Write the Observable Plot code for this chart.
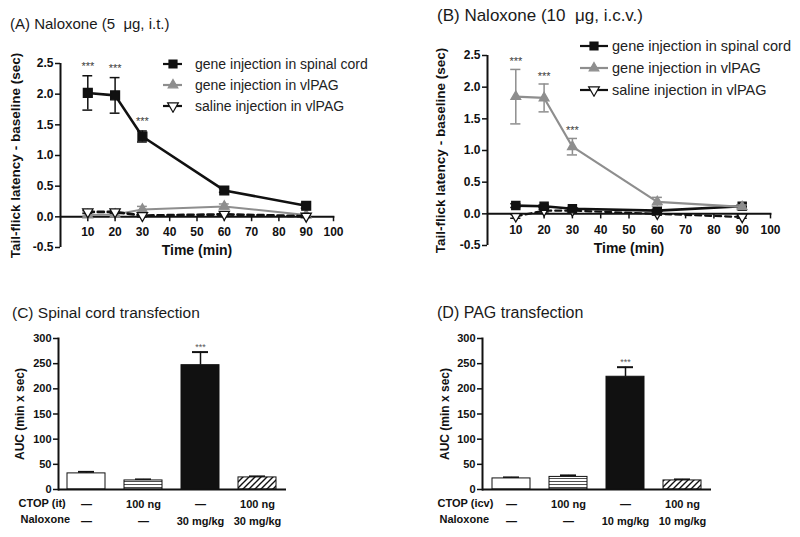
<!DOCTYPE html>
<html>
<head>
<meta charset="utf-8">
<script src="https://cdn.jsdelivr.net/npm/d3@7"></script>
<script src="https://cdn.jsdelivr.net/npm/@observablehq/plot@0.6"></script>
<style>
  body { margin: 0; background: #fff; }
  #root { position: relative; width: 800px; height: 537px; overflow: hidden; background: #fff;
          font-family: "Liberation Sans", Arial, sans-serif; color: #111; }
  .title { position: absolute; line-height: 18px; white-space: pre; color: #1a1a1a; }
  .lg-row { position: absolute; display: flex; align-items: center; white-space: nowrap; color: #222; }
  .lg-row svg { display: block; }
</style>
</head>
<body>
<div id="root">
  <svg width="0" height="0" style="position:absolute">
    <defs>
      <pattern id="hstripe" patternUnits="userSpaceOnUse" width="8" height="3">
        <rect width="8" height="3" fill="white"/>
        <line x1="0" y1="1.5" x2="8" y2="1.5" stroke="#222" stroke-width="0.8"/>
      </pattern>
      <pattern id="diag" patternUnits="userSpaceOnUse" width="6" height="6">
        <rect width="6" height="6" fill="white"/>
        <path d="M0,6 L6,0 M-1.5,1.5 L1.5,-1.5 M4.5,7.5 L7.5,4.5" stroke="#111" stroke-width="1.4"/>
      </pattern>
    </defs>
  </svg>
</div>
<script>
// ---------------- data ----------------
const timePoints = [10, 20, 30, 60, 90];
const xTickValues = [10, 20, 30, 40, 50, 60, 70, 80, 90, 100];
const yTickValuesLine = [-0.5, 0, 0.5, 1, 1.5, 2, 2.5];
const seriesLabels = ["gene injection in spinal cord", "gene injection in vlPAG", "saline injection in vlPAG"];

// Panel A: Naloxone (5 µg, i.t.)
const aSpinalMean = [2.02, 1.98, 1.31, 0.43, 0.18];
const aSpinalSem  = [0.28, 0.29, 0.09, 0.03, 0.04];
const aVlpagMean  = [0.03, 0.04, 0.12, 0.17, 0.03];
const aVlpagSem   = [0.02, 0.02, 0.05, 0.04, 0.02];
const aSalineMean = [0.08, 0.08, 0.02, 0.04, 0.01];
const aSalineSem  = [0.02, 0.02, 0.02, 0.02, 0.02];
const aStars      = ["***", "***", "***", "", ""];

// Panel B: Naloxone (10 µg, i.c.v.)
const bSpinalMean = [0.13, 0.12, 0.08, 0.05, 0.12];
const bSpinalSem  = [0.03, 0.02, 0.02, 0.02, 0.02];
const bVlpagMean  = [1.85, 1.83, 1.06, 0.19, 0.11];
const bVlpagSem   = [0.43, 0.22, 0.13, 0.07, 0.03];
const bSalineMean = [-0.04, 0.05, 0.05, 0.0, -0.05];
const bSalineSem  = [0.03, 0.02, 0.02, 0.02, 0.02];
const bStars      = ["***", "***", "***", "", ""];

// Panels C and D: AUC
const barGroups = ["control", "CTOP", "naloxone", "CTOP + naloxone"];
const yTickValuesBar = [0, 50, 100, 150, 200, 250, 300];
const cAUC  = [32, 18, 247, 24];
const cSem  = [3, 2, 26, 2];
const cCtopRow  = ["—", "100 ng", "—", "100 ng"];
const cNaloxRow = ["—", "—", "30 mg/kg", "30 mg/kg"];
const dAUC  = [22, 25, 224, 18];
const dSem  = [2, 3, 19, 2];
const dCtopRow  = ["—", "100 ng", "—", "100 ng"];
const dNaloxRow = ["—", "—", "10 mg/kg", "10 mg/kg"];
const barStars = ["", "", "***", ""];

// ---------------- styles ----------------
const BLACK = "#111";
const GRAY = "#8e8e8e";
const barFills = ["white", "url(#hstripe)", "#111", "url(#diag)"];
const FONT = "Liberation Sans, Arial, sans-serif";

const triangleDown = {
  draw(context, size) {
    const a = Math.sqrt(size * 4 / Math.sqrt(3));
    const h = a * Math.sqrt(3) / 2;
    context.moveTo(0, 2 * h / 3);
    context.lineTo(a / 2, -h / 3);
    context.lineTo(-a / 2, -h / 3);
    context.closePath();
  }
};

const root = document.getElementById("root");
function place(node, left, top) {
  node.style.position = "absolute";
  node.style.left = left + "px";
  node.style.top = top + "px";
  root.appendChild(node);
}
function addTitle(text, left, top, size) {
  const d = document.createElement("div");
  d.className = "title";
  d.textContent = text;
  d.style.left = left + "px";
  d.style.top = top + "px";
  d.style.fontSize = size + "px";
  root.appendChild(d);
}

function rows(mean, sem, stars) {
  return timePoints.map((t, i) => ({t, v: mean[i], lo: mean[i] - sem[i], hi: mean[i] + sem[i], star: stars ? stars[i] : ""}));
}

function seriesMarks(data, o) {
  const marks = [];
  marks.push(Plot.line(data, {x: "t", y: "v", stroke: o.color, strokeWidth: o.lw, strokeDasharray: o.dash}));
  marks.push(Plot.ruleX(data, {x: "t", y1: "lo", y2: "hi", stroke: o.color, strokeWidth: 1.5}));
  marks.push(Plot.ruleY(data, {y: "hi", x1: d => d.t - 1.8, x2: d => d.t + 1.8, stroke: o.color, strokeWidth: 1.5}));
  marks.push(Plot.ruleY(data, {y: "lo", x1: d => d.t - 1.8, x2: d => d.t + 1.8, stroke: o.color, strokeWidth: 1.5}));
  marks.push(Plot.dot(data, {x: "t", y: "v", symbol: o.symbol, r: o.r, fill: o.fill, stroke: o.stroke, strokeWidth: 1.3}));
  return marks;
}

function linePanel(cfg) {
  return Plot.plot({
    width: 400, height: 270,
    marginLeft: cfg.ml, marginRight: cfg.mr, marginTop: cfg.mt, marginBottom: cfg.mb,
    x: {domain: [0, 100], axis: null},
    y: {domain: [-0.5, 2.5]},
    style: {fontFamily: FONT, fontSize: "12px", fontWeight: "bold", color: BLACK, background: "transparent", overflow: "visible"},
    marks: [
      Plot.axisY({ticks: yTickValuesLine, tickFormat: d => d.toFixed(1), tickSize: 5, tickPadding: 2, strokeWidth: 1.5, label: null, fontSize: 12}),
      Plot.ruleX([0], {stroke: BLACK, strokeWidth: 2}),
      Plot.ruleY([0], {x1: 0, x2: 100.5, stroke: BLACK, strokeWidth: 2}),
      Plot.ruleX(xTickValues, {x: d => d, y1: 0, y2: -0.08, stroke: BLACK, strokeWidth: 1.5}),
      Plot.text(xTickValues, {x: d => d, y: 0, dy: cfg.tickDy, text: d => String(d), fontSize: 12}),
      Plot.text(["Tail-flick latency - baseline (sec)"], {frameAnchor: "left", textAnchor: "middle", dx: cfg.ylabDx, rotate: -90, fontSize: 13.5}),
      Plot.text(["Time (min)"], {frameAnchor: "bottom", dy: 7, fontSize: 14}),
      ...cfg.series.flatMap(s => seriesMarks(s.data, s)),
      Plot.text(cfg.starData.filter(d => d.star), {x: "t", y: "hi", dy: cfg.starDy, text: "star", fill: "#3a3a3a", fontWeight: "normal", fontSize: 11})
    ]
  });
}

function addLegend(left, top, gap, glyphW, markerX, textGap, fontSize, styles) {
  seriesLabels.forEach((label, i) => {
    const s = styles[i];
    const row = document.createElement("div");
    row.className = "lg-row";
    row.style.left = left + "px";
    row.style.top = (top + i * gap - 9) + "px";
    row.style.height = "18px";
    row.style.fontSize = fontSize + "px";
    const svg = d3.create("svg").attr("width", glyphW).attr("height", 14);
    svg.append("line").attr("x1", 0).attr("x2", glyphW).attr("y1", 7).attr("y2", 7)
      .attr("stroke", s.color).attr("stroke-width", 2.2);
    svg.append("path").attr("transform", `translate(${markerX},7)`)
      .attr("d", d3.symbol().type(s.sym).size(s.size)())
      .attr("fill", s.fill).attr("stroke", s.stroke).attr("stroke-width", 1.2);
    row.appendChild(svg.node());
    const span = document.createElement("span");
    span.style.marginLeft = textGap + "px";
    span.textContent = label;
    row.appendChild(span);
    root.appendChild(row);
  });
}

const legendStyles = [
  {color: BLACK, sym: d3.symbolSquare, size: 64, fill: BLACK, stroke: BLACK},
  {color: GRAY, sym: d3.symbolTriangle, size: 40, fill: GRAY, stroke: GRAY},
  {color: BLACK, sym: triangleDown, size: 50, fill: "white", stroke: BLACK}
];

// ---------------- Panel A ----------------
const aSpinal = rows(aSpinalMean, aSpinalSem, aStars);
const aVlpag = rows(aVlpagMean, aVlpagSem);
const aSaline = rows(aSalineMean, aSalineSem);
const plotA = linePanel({
  ml: 60, mr: 67, mt: 63, mb: 23, tickDy: 15, ylabDx: -45, starDy: -9,
  starData: aSpinal,
  series: [
    {data: aVlpag, color: GRAY, lw: 2, symbol: "triangle", r: 3.6, fill: GRAY, stroke: GRAY},
    {data: aSaline, color: BLACK, lw: 2.8, dash: "6,4", symbol: triangleDown, r: 3.8, fill: "white", stroke: BLACK},
    {data: aSpinal, color: BLACK, lw: 2.6, symbol: "square", r: 5, fill: BLACK, stroke: BLACK}
  ]
});
place(plotA, 0, 0);
addTitle("(A) Naloxone (5  μg, i.t.)", 10, 15, 15);
addLegend(163, 63.5, 21, 19, 10, 13, 14, legendStyles);

// ---------------- Panel B ----------------
const bSpinal = rows(bSpinalMean, bSpinalSem);
const bVlpag = rows(bVlpagMean, bVlpagSem, bStars);
const bSaline = rows(bSalineMean, bSalineSem);
const plotB = linePanel({
  ml: 87, mr: 30, mt: 55, mb: 25, tickDy: 16, ylabDx: -47, starDy: -8,
  starData: bVlpag,
  series: [
    {data: bSaline, color: BLACK, lw: 2.2, dash: "6,4", symbol: triangleDown, r: 3.6, fill: "white", stroke: BLACK},
    {data: bSpinal, color: BLACK, lw: 2.6, symbol: "square", r: 4.6, fill: BLACK, stroke: BLACK},
    {data: bVlpag, color: GRAY, lw: 2.2, symbol: "triangle", r: 3.6, fill: GRAY, stroke: GRAY}
  ]
});
place(plotB, 400, 0);
addTitle("(B) Naloxone (10  μg, i.c.v.)", 437, 7, 17);
addLegend(580, 46, 22, 28, 14, 4, 14.5, legendStyles);

// ---------------- Bar panels ----------------
function barPanel(cfg) {
  const data = barGroups.map((g, i) => ({g, v: cfg.auc[i], hi: cfg.auc[i] + cfg.sem[i], ctop: cfg.ctop[i], nal: cfg.nal[i], star: barStars[i], i}));
  return Plot.plot({
    width: 400, height: 267,
    marginLeft: cfg.ml, marginRight: cfg.mr, marginTop: 68, marginBottom: 48,
    x: {type: "band", domain: barGroups, paddingInner: 0.33, paddingOuter: 0.165, axis: null},
    y: {domain: [0, 300]},
    style: {fontFamily: FONT, fontSize: "11px", fontWeight: "bold", color: BLACK, background: "transparent", overflow: "visible"},
    marks: [
      Plot.ruleX(data, {x: "g", y1: "v", y2: "hi", stroke: BLACK, strokeWidth: 1.5}),
      Plot.tickY(data, {x: "g", y: "hi", insetLeft: 11, insetRight: 11, stroke: BLACK, strokeWidth: 2}),
      ...data.map(d => Plot.barY([d], {x: "g", y: "v", fill: barFills[d.i], stroke: BLACK, strokeWidth: 1})),
      Plot.ruleY([0], {stroke: BLACK, strokeWidth: 2}),
      Plot.frame({anchor: "left", stroke: BLACK, strokeWidth: 2}),
      Plot.axisY({ticks: yTickValuesBar, tickSize: 5, tickPadding: 2, strokeWidth: 1.5, label: null, fontSize: 11}),
      Plot.text(data, {x: "g", text: "ctop", frameAnchor: "bottom", dy: 18, fontSize: 11}),
      Plot.text(data, {x: "g", text: "nal", frameAnchor: "bottom", dy: 35, fontSize: 11}),
      Plot.text([cfg.rowLabel], {frameAnchor: "bottom-left", dx: cfg.rowDx, dy: 17, textAnchor: "start", fontSize: 11}),
      Plot.text(["Naloxone"], {frameAnchor: "bottom-left", dx: cfg.rowDx + 2, dy: 33, textAnchor: "start", fontSize: 11}),
      Plot.text(["AUC (min x sec)"], {frameAnchor: "left", textAnchor: "middle", rotate: -90, dx: cfg.ylabDx, fontSize: 12}),
      Plot.text(data.filter(d => d.star), {x: "g", y: "hi", dy: -5, text: "star", fill: "#555", fontWeight: "normal", fontSize: 9})
    ]
  });
}

const plotC = barPanel({auc: cAUC, sem: cSem, ctop: cCtopRow, nal: cNaloxRow, ml: 58, mr: 114, rowLabel: "CTOP (it)", rowDx: -40, ylabDx: -38});
place(plotC, 0, 270);
addTitle("(C) Spinal cord transfection", 12, 304, 15.5);

const plotD = barPanel({auc: dAUC, sem: dSem, ctop: dCtopRow, nal: dNaloxRow, ml: 82, mr: 89, rowLabel: "CTOP (icv)", rowDx: -45, ylabDx: -37});
place(plotD, 400, 270);
addTitle("(D) PAG transfection", 437, 304, 16);
</script>
</body>
</html>
